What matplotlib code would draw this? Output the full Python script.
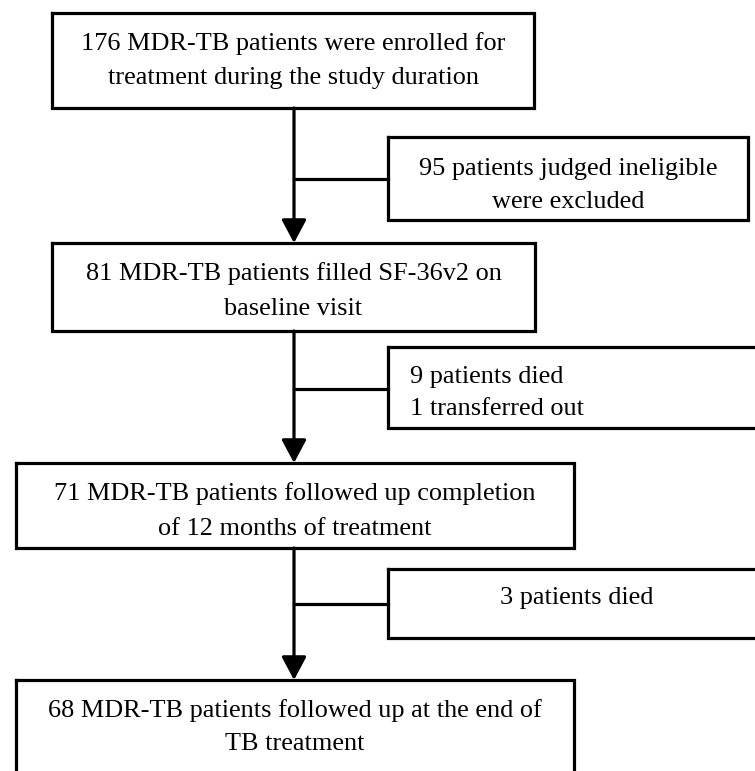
import matplotlib.pyplot as plt

plt.rcParams['font.family'] = ['Liberation Serif', 'DejaVu Serif']

# main flow boxes (top to bottom)
main_texts = [
    ["176 MDR-TB patients were enrolled for", "treatment during the study duration"],
    ["81 MDR-TB patients filled SF-36v2 on", "baseline visit"],
    ["71 MDR-TB patients followed up completion", "of 12 months of treatment"],
    ["68 MDR-TB patients followed up at the end of", "TB treatment"],
]
# exclusion boxes on the right
side_texts = [
    ["95 patients judged ineligible", "were excluded"],
    ["9 patients died", "1 transferred out"],
    ["3 patients died"],
]

# layout in pixels (x0, x1, y0, y1) and text baselines
main_boxes = [(52, 534, 13, 108), (52, 535, 243, 331), (16, 574, 463, 548), (16, 574, 680, 800)]
main_base = [[50, 84], [280, 315], [500, 535], [717, 750]]
side_boxes = [(388, 748, 137, 220), (388, 770, 347, 428), (388, 766, 569, 638)]
side_base = [[175, 208], [383, 415], [604]]
side_align = ['center', 'left', 'center']
branch_y = [179, 389, 604]
xc = 294

fig = plt.figure(figsize=(7.55, 7.71), dpi=100)
ax = fig.add_axes([0, 0, 1, 1])
ax.set_xlim(0, 755)
ax.set_ylim(771, 0)
ax.axis('off')

lw = 2.3
fs = 18.9

def box(b):
    x0, x1, y0, y1 = b
    ax.plot([x0, x1, x1, x0, x0], [y0, y0, y1, y1, y0], color='black', lw=lw,
            solid_joinstyle='miter', clip_on=False)

for b, lines, bases in zip(main_boxes, main_texts, main_base):
    box(b)
    cx = (b[0] + b[1]) / 2
    for t, y in zip(lines, bases):
        ax.text(cx, y, t, ha='center', va='baseline', fontsize=fs)

for b, lines, bases, al in zip(side_boxes, side_texts, side_base, side_align):
    box(b)
    x = (b[0] + b[1]) / 2 if al == 'center' else b[0] + 22
    for t, y in zip(lines, bases):
        ax.text(x, y, t, ha=al, va='baseline', fontsize=fs)

for i in range(3):
    y_from = main_boxes[i][3]
    y_to = main_boxes[i + 1][2]
    ax.annotate('', xy=(xc, y_to), xytext=(xc, y_from),
                arrowprops=dict(arrowstyle='-|>,head_length=0.75,head_width=0.4',
                                lw=lw, color='black', shrinkA=0, shrinkB=0,
                                mutation_scale=19))
    ax.plot([xc, side_boxes[i][0]], [branch_y[i], branch_y[i]], color='black', lw=lw)

fig.savefig('out.png', dpi=100)
